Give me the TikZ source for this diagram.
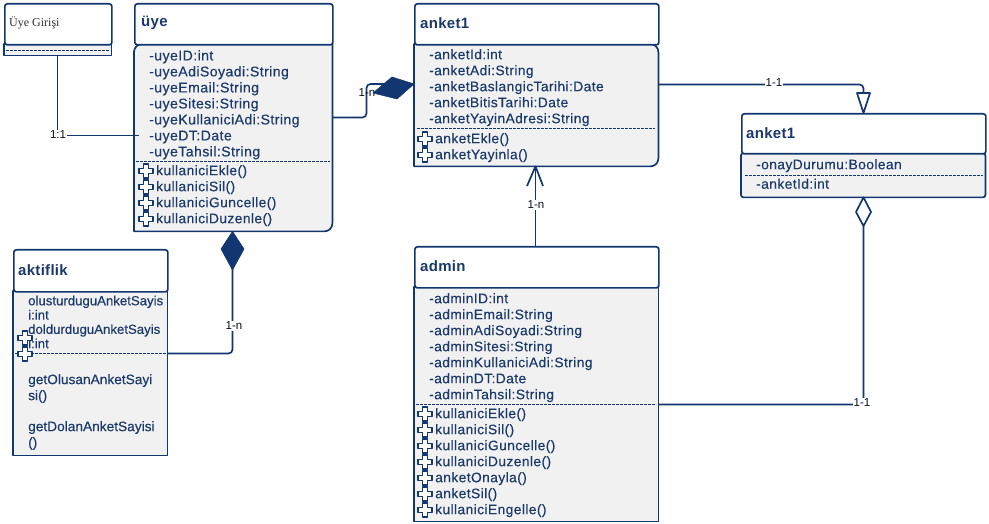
\documentclass[tikz,border=0pt]{standalone}
\usepackage{fontspec}
\setmainfont{Liberation Sans}
\newfontfamily\attrfont[LetterSpace=3,FakeBold=0.3]{Liberation Sans}
\newfontfamily\attrtight[FakeBold=0.3]{Liberation Sans}
\newfontfamily\titlefont[LetterSpace=2]{Liberation Sans}
\newfontfamily\loginfont{Liberation Serif}
\usetikzlibrary{calc}
\definecolor{navy}{HTML}{12366F}
\definecolor{inktext}{HTML}{1B3A6B}
\definecolor{bodyfill}{HTML}{F1F1F1}
\tikzset{
  x=1pt,y=-1pt,
  ink/.style={draw=navy,line width=1.7pt,line join=round},
  hdr/.style={ink,fill=white,anchor=north west,rounded corners=2.5pt,inner sep=0pt},
  bdy/.style={anchor=north west,inner sep=0pt},
  titletext/.style={anchor=west,inner sep=0pt,text=inktext,font=\titlefont\bfseries\fontsize{15}{18}\selectfont},
  rows/.style={anchor=north west,inner sep=0pt,align=left,text=inktext,font=\attrfont\fontsize{13.8}{16}\selectfont},
  rel/.style={ink,rounded corners=4pt},
  sep/.style={draw=navy,line width=1.5pt,dash pattern=on 2.6pt off 1.4pt},
  mult/.style={fill=white,inner sep=1pt,text=black!75!navy,font=\fontsize{11.5}{13}\selectfont},
  plusicon/.pic={
    \draw[draw=navy,line width=1.5pt,fill=white,line join=round]
      (-2.5,-7)--(2.5,-7)--(2.5,-2.5)--(7,-2.5)--(7,2.5)--(2.5,2.5)--(2.5,7)--(-2.5,7)
      --(-2.5,2.5)--(-7,2.5)--(-7,-2.5)--(-2.5,-2.5)--cycle;
  }
}
\begin{document}
\begin{tikzpicture}
\useasboundingbox (0,0) rectangle (989,524);

\node[bdy,minimum width=107pt,minimum height=11pt] (loginB) at (4,44) {};
\node[bdy,minimum width=198pt,minimum height=187pt] (uyeB) at (134,44) {};
\node[bdy,minimum width=244pt,minimum height=122pt] (anketB) at (414,44) {};
\node[bdy,minimum width=244pt,minimum height=44pt] (onayB) at (741,153) {};
\node[bdy,minimum width=244pt,minimum height=234pt] (adminB) at (414,287) {};
\node[bdy,minimum width=154pt,minimum height=164pt] (aktifB) at (13,291) {};

% Bodies
\draw[ink,fill=bodyfill] (loginB.south west) rectangle (loginB.north east);
\draw[ink,fill=bodyfill] (uyeB.north east) -- (uyeB.north) [rounded corners=8pt] -- (uyeB.north west) -- (uyeB.west) [sharp corners] -- (uyeB.south west) -- (uyeB.south) [rounded corners=8pt] -- (uyeB.south east) -- (uyeB.east) [sharp corners] -- cycle;
\draw[ink,fill=bodyfill] (anketB.north) [rounded corners=8pt] -- (anketB.north east) -- (anketB.south east) -- (anketB.south) [sharp corners] -- (anketB.south west) -- (anketB.north west) -- cycle;
\draw[ink,fill=bodyfill,rounded corners=2.5pt] (onayB.south west) rectangle (onayB.north east);
\draw[ink,fill=bodyfill] (adminB.south west) rectangle (adminB.north east);
\draw[ink,fill=bodyfill] (aktifB.south west) rectangle (aktifB.north east);

% Headers
\node[hdr,minimum width=107pt,minimum height=41pt] (loginH) at (4,3) {};
\node[hdr,minimum width=198pt,minimum height=41pt] (uyeH) at (134,3) {};
\node[hdr,minimum width=244pt,minimum height=41pt] (anketH) at (414,3) {};
\node[hdr,minimum width=244pt,minimum height=40pt] (onayH) at (741,113) {};
\node[hdr,minimum width=244pt,minimum height=41pt] (adminH) at (414,246) {};
\node[hdr,minimum width=154pt,minimum height=42pt] (aktifH) at (13,249) {};

% Titles
\node[anchor=west,inner sep=0pt,text=black!80,font=\loginfont\fontsize{12}{14}\selectfont] (loginT) at (9,23) {Üye Girişi};
\node[titletext] (uyeT) at (141,23) {üye};
\node[titletext] (anketT) at (420,23) {anket1};
\node[titletext] (onayT) at (746,133) {anket1};
\node[titletext] (adminT) at (420,266) {admin};
\node[titletext] (aktifT) at (18,270) {aktiflik};

% Separators
\draw[sep] (6,50.5) -- (109,50.5);
\draw[sep] (136,161.5) -- (330,161.5);
\draw[sep] (417,128.5) -- (655,128.5);
\draw[sep] (745,175.5) -- (983,175.5);
\draw[sep] (416,404.5) -- (656,404.5);
\draw[sep] (15,353.5) -- (167,353.5);

% Rows
\node[rows,font=\attrfont\fontsize{14.1}{16}\selectfont] (uyeA) at (149,50) {-uyeID:int\\-uyeAdiSoyadi:String\\-uyeEmail:String\\-uyeSitesi:String\\-uyeKullaniciAdi:String\\-uyeDT:Date\\-uyeTahsil:String};
\node[rows] (uyeM) at (156,165) {kullaniciEkle()\\kullaniciSil()\\kullaniciGuncelle()\\kullaniciDuzenle()};
\node[rows] (anketA) at (429,49) {-anketId:int\\-anketAdi:String\\-anketBaslangicTarihi:Date\\-anketBitisTarihi:Date\\-anketYayinAdresi:String};
\node[rows] (anketM) at (435,133) {anketEkle()\\anketYayinla()};
\node[rows] (onayA) at (756,159) {-onayDurumu:Boolean};
\node[rows] (onayC) at (756,178.5) {-anketId:int};
\node[rows] (adminA) at (429,293) {-adminID:int\\-adminEmail:String\\-adminAdiSoyadi:String\\-adminSitesi:String\\-adminKullaniciAdi:String\\-adminDT:Date\\-adminTahsil:String};
\node[rows] (adminM) at (435,408) {kullaniciEkle()\\kullaniciSil()\\kullaniciGuncelle()\\kullaniciDuzenle()\\anketOnayla()\\anketSil()\\kullaniciEngelle()};
\node[rows,font=\attrtight\fontsize{13.2}{14.3}\selectfont] (aktifA) at (28,295.5) {olusturduguAnketSayis\\i:int\\doldurduguAnketSayis\\i:int};
\node[rows,font=\attrtight\fontsize{13.7}{16}\selectfont] (aktifM1) at (28,374) {getOlusanAnketSayi\\si()};
\node[rows,font=\attrtight\fontsize{13.7}{16}\selectfont] (aktifM2) at (28,421) {getDolanAnketSayisi\\()};

% Plus icons
\foreach \py in {171,187,203,219} \pic at (146,\py) {plusicon};
\foreach \py in {139,155} \pic at (425,\py) {plusicon};
\foreach \py in {414,430,446,462,478,494,510} \pic at (425,\py) {plusicon};
\foreach \py in {338,354} \pic at (25,\py) {plusicon};

% Connector: Üye Girişi - üye
\coordinate (loginEnd) at (139,135.5);
\draw[ink] (loginB.south-|57.5,0) |- (loginEnd);
\node[mult] (m1) at (58,135) {1:1};

% Connector: üye - anket1 (composition)
\coordinate (compTip) at (anketB.west|-0,84);
\draw[rel] (uyeB.east|-0,117.5) -- (366.5,117.5) -- (366.5,84) -- (compTip);
\node[mult,fill=none] (m2) at (367,93) {1-n};
\draw[draw=navy,fill=navy,line width=.6pt,line join=round] (compTip) -- (392,77) -- (373,93) -- (397,99) -- cycle;

% Connector: aktiflik - üye (composition)
\coordinate (aktifDiaTip) at (uyeB.south-|232.5,0);
\draw[rel] (aktifB.east|-0,353.5) -- (232.5,353.5) -- (232.5,268);
\draw[draw=navy,fill=navy,line width=.6pt,line join=round] (aktifDiaTip) -- (244,249) -- (232.5,270) -- (221,249) -- cycle;
\node[mult] (m3) at (234,326) {1-n};

% Connector: admin - anket1 (open arrow)
\coordinate (adminArrow) at (anketB.south-|535.5,0);
\draw[ink] (adminH.north-|535.5,0) -- (adminArrow);
\draw[ink] (527,186) -- (adminArrow) -- (543,186);
\node[mult] (m4) at (536,205) {1-n};

% Connector: anket1 - onay (open triangle)
\coordinate (genTip) at (onayH.north-|863.5,0);
\draw[rel] (anketB.east|-0,84.5) -- (863.5,84.5) -- (863.5,93);
\draw[ink,fill=white] (genTip) -- (857,93) -- (870,93) -- cycle;
\node[mult] (m5) at (774,83) {1-1};

% Connector: admin - onay (open diamond)
\coordinate (aggTip) at (onayB.south-|863.5,0);
\draw[rel] (adminB.east|-0,404.5) -- (863.5,404.5) -- (863.5,226);
\draw[ink,fill=white] (aggTip) -- (871,212) -- (863.5,226) -- (856,212) -- cycle;
\node[mult] (m6) at (862,403) {1-1};
\end{tikzpicture}
\end{document}
